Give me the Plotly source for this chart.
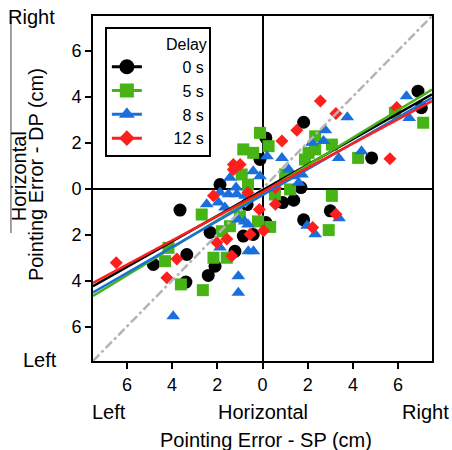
import plotly.graph_objects as go

# ---------------- data ----------------
delays = ["0 s", "5 s", "8 s", "12 s"]
legend_labels = ["\u2007\u2007\u2007\u20070 s", "\u2007\u2007\u2007\u20075 s", "\u2007\u2007\u2007\u20078 s", "\u2007\u2007\u200712 s"]
colors = ["#000000", "#46b414", "#1b6fdc", "#ff1e1e"]
symbols = ["circle", "square", "triangle-up", "diamond"]
marker_sizes = [13, 12, 12, 10]

x_0s = [6.88, 7.03, 4.83, 1.82, 0.15, -0.11, -1.88, -3.65, -4.83, -3.35, -3.39, -2.4, -2.1,
        -1.22, -2.32, -0.85, -0.41, 3.0, 1.82, 1.38, 0.89, 0.15, 1.7, -0.68]
y_0s = [4.23, 3.51, 1.33, 2.88, 2.2, 1.26, 0.17, -0.94, -3.3, -2.87, -4.07, -3.78, -3.38,
        -2.73, -1.91, -2.07, -2.0, -0.97, -1.36, -0.51, -0.61, -1.48, 0.04, -0.7]

x_5s = [7.11, 5.86, 4.23, 3.07, 2.93, 0.34, 2.33, 2.04, 2.33, 3.07, 1.88, 0.27, -0.11, -0.85,
        -0.41, -0.92, -2.69, -2.17, -1.58, -1.8, -4.16, -4.31, -3.61, -2.64, 1.0, 1.22, 0.55,
        -0.64, -0.2, -1.0, -1.44]
y_5s = [2.86, 3.29, 1.33, -0.32, -1.81, -1.67, 2.27, 1.55, 1.7, 1.91, 1.26, 1.84, 2.42, 1.7,
        1.55, 0.61, -1.13, -3.01, -3.01, -1.86, -2.58, -3.16, -4.17, -4.42, 0.61, -0.04, -0.26,
        0.17, -1.43, -1.2, -1.64]

x_8s = [6.37, 6.49, 4.38, 3.75, 2.78, 2.7, 2.19, 3.37, 0.2, 0.86, 1.16, 1.38, 1.6, 1.75, 3.39,
        1.97, 2.33, -0.41, -0.11, -1.44, -1.17, -1.88, -1.51, -1.14, -0.77, -2.47, -1.95, -1.66,
        -1.08, -0.79, -0.64, -1.88, -1.07, -1.07, -0.63, -0.4, -3.95]
y_8s = [4.01, 3.07, 1.62, 3.1, 2.53, 2.06, 1.99, 1.33, 1.4, 1.33, 0.83, 0.53, 0.25, 0.61, -1.29,
        -1.62, -1.99, 0.75, 0.53, 0.47, 0.04, -0.17, -0.25, -0.25, -0.32, -0.68, -0.61, -0.83,
        -1.35, -1.43, -1.57, -2.57, -3.81, -4.53, -2.73, -2.73, -5.55]

x_12s = [2.56, 3.25, 1.52, 0.86, 5.94, 5.64, 3.25, 2.22, 0.57, 0.05, -1.29, -0.99, -1.29, -2.17,
         -0.65, -0.14, -0.55, -1.58, -2.02, -1.36, -3.79, -4.23, -6.47, 0.57]
y_12s = [3.8, 3.26, 2.53, 2.06, 3.52, 1.29, -1.12, -1.7, -0.68, -1.84, 1.04, 1.04, 0.83, -0.32,
         -0.17, -0.91, -1.99, -2.2, -2.35, -2.93, -3.07, -3.88, -3.23, 0.03]

# regression fits (slope, intercept) per delay
fit_slopes = [0.556, 0.598, 0.564, 0.527]
fit_intercepts = [-0.08, -0.185, -0.29, -0.15]

axis_range = [-7.5, 7.5]
tick_vals = [-6, -4, -2, 0, 2, 4, 6]
tick_text = ["6", "4", "2", "0", "2", "4", "6"]

xs = [x_0s, x_5s, x_8s, x_12s]
ys = [y_0s, y_5s, y_8s, y_12s]

FONT = "Arial, 'Liberation Sans', sans-serif"

fig = go.Figure()

# scatter points
for i in range(4):
    fig.add_trace(go.Scatter(
        x=xs[i], y=ys[i], mode="markers", showlegend=False,
        marker=dict(symbol=symbols[i], size=marker_sizes[i], color=colors[i],
                    line=dict(width=0)),
    ))

# identity line
fig.add_trace(go.Scatter(
    x=axis_range, y=axis_range, mode="lines", showlegend=False,
    line=dict(color="#b4b4b4", width=2.5, dash="dashdot"),
))

# regression lines
for i in range(4):
    fx = axis_range
    fy = [fit_slopes[i] * v + fit_intercepts[i] for v in fx]
    fig.add_trace(go.Scatter(
        x=fx, y=fy, mode="lines", showlegend=False,
        line=dict(color=colors[i], width=2.5),
    ))

# legend entries
for i in range(4):
    fig.add_trace(go.Scatter(
        x=[None], y=[None], mode="lines+markers", name=legend_labels[i],
        line=dict(color=colors[i], width=3),
        marker=dict(symbol=symbols[i], size=marker_sizes[i] + 2, color=colors[i]),
    ))

axis_common = dict(
    range=axis_range, tickvals=tick_vals, ticktext=tick_text,
    showgrid=False, zeroline=True, zerolinecolor="black", zerolinewidth=2,
    showline=True, linecolor="black", linewidth=2, mirror=True,
    ticks="outside", ticklen=6, tickwidth=2, tickcolor="black",
    tickfont=dict(size=18, color="black", family=FONT),
    automargin=False,
)

fig.update_layout(
    width=452, height=450,
    margin=dict(l=93, r=20, t=16, b=89),
    paper_bgcolor="white", plot_bgcolor="white",
    font=dict(family=FONT, color="black"),
    xaxis=axis_common,
    yaxis=axis_common,
    legend=dict(
        x=0.035, y=0.968, xanchor="left", yanchor="top",
        bgcolor="white", bordercolor="black", borderwidth=2,
        font=dict(size=16, color="black", family=FONT),
        title=dict(text="Delay", side="top right", font=dict(size=16, color="black", family=FONT)),
        tracegroupgap=0,
    ),
)

ann = dict(showarrow=False, xref="paper", yref="paper", xanchor="center", yanchor="middle",
           font=dict(size=20, color="black", family=FONT))
fig.add_annotation(text="Right", x=-0.18, y=0.997, **ann)
fig.add_annotation(text="Left", x=-0.156, y=0.003, **ann)
fig.add_annotation(text="Horizontal", x=-0.218, y=0.536, textangle=-90, **ann)
fig.add_annotation(text="Pointing Error - DP (cm)", x=-0.168, y=0.539, textangle=-90, **ann)
fig.add_annotation(text="Left", x=0.047, y=-0.147, **ann)
fig.add_annotation(text="Horizontal", x=0.5, y=-0.147, **ann)
fig.add_annotation(text="Right", x=0.982, y=-0.147, **ann)
fig.add_annotation(text="Pointing Error - SP (cm)", x=0.511, y=-0.229, **ann)

fig.add_shape(type="line", xref="paper", yref="paper", x0=-0.242, x1=-0.242, y0=0.99, y1=0.371,
              line=dict(color="#444444", width=1))

fig.write_html("out.html",
               config={"displayModeBar": False},
               post_script="document.body.style.margin='0';document.body.style.overflow='hidden';")
